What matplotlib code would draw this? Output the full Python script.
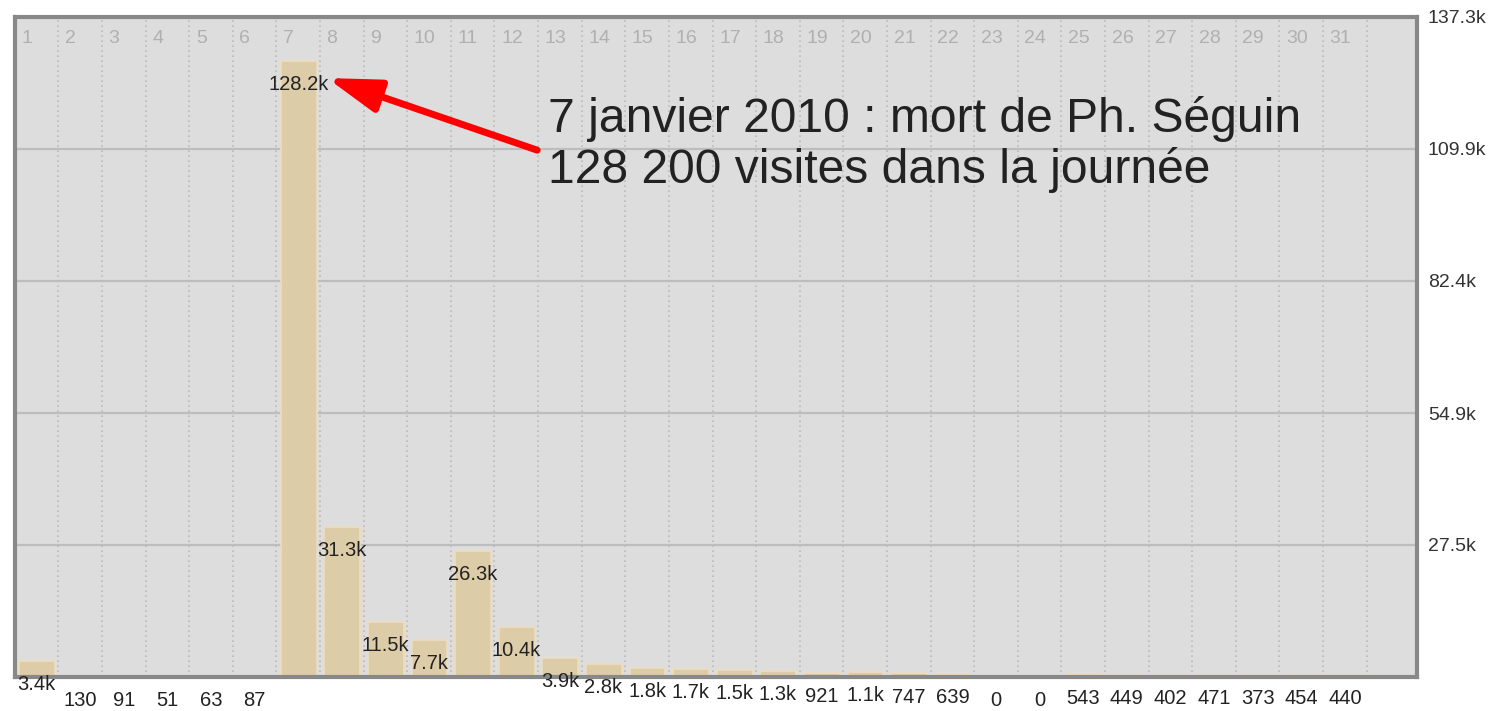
import numpy as np
import matplotlib
matplotlib.use('Agg')
import matplotlib.pyplot as plt
import matplotlib.transforms as mtransforms

plt.rcParams['font.family'] = ['Liberation Sans', 'DejaVu Sans']

# daily visits, january 2010
days = np.arange(1, 32)
visits = [3400, 130, 91, 51, 63, 87, 128200, 31300, 11500, 7700, 26300, 10400,
          3900, 2800, 1800, 1700, 1500, 1300, 921, 1100, 747, 639, 0, 0,
          543, 449, 402, 471, 373, 454, 440]
value_labels = ['3.4k', '130', '91', '51', '63', '87', '128.2k', '31.3k', '11.5k',
                '7.7k', '26.3k', '10.4k', '3.9k', '2.8k', '1.8k', '1.7k', '1.5k',
                '1.3k', '921', '1.1k', '747', '639', '0', '0', '543', '449', '402',
                '471', '373', '454', '440']
y_ticks = [27.5e3, 54.9e3, 82.4e3, 109.9e3, 137.3e3]
y_tick_labels = ['27.5k', '54.9k', '82.4k', '109.9k', '137.3k']
note_lines = ['7 janvier 2010 : mort de Ph. Séguin',
              '128 200 visites dans la journée']

fig = plt.figure(figsize=(14.9, 7.11), dpi=100)
ax = fig.add_axes([0.0099, 0.0478, 0.941, 0.9283])
ax.set_facecolor('#dddddd')

ax.bar(days - 1 + 0.1, visits, width=0.82, align='edge',
       color='#ddcca8', edgecolor='#efdcc0', linewidth=1.2, zorder=3)

ax.set_xlim(0, 32.15)
ax.set_ylim(0, 137.3e3)

# grid
ax.set_yticks(y_ticks)
ax.set_yticklabels(y_tick_labels)
ax.yaxis.tick_right()
ax.tick_params(axis='y', length=0, pad=8, labelsize=14, labelcolor='#333333')
ax.grid(axis='y', color='#bdbdbd', linewidth=1.6, zorder=1)
ax.set_xticks([])
ax.vlines(days, 0, 137.3e3, colors='#bbbbbb', linestyles=(0, (1, 2)),
          linewidth=1.2, zorder=1)

for s in ax.spines.values():
    s.set_color('#888888')
    s.set_linewidth(3)
    s.set_zorder(5)

# day numbers along the top
trans = mtransforms.blended_transform_factory(ax.transData, ax.transAxes)
for d in days:
    ax.text(d - 1 + 0.15, 0.968, str(d), transform=trans, ha='left', va='center',
            fontsize=14, color='#b0b0b0', zorder=4)

# value labels under bar tops
for d, v, lbl in zip(days, visits, value_labels):
    ax.annotate(lbl, xy=(d - 0.5, v), xytext=(0, -17), textcoords='offset points',
                ha='center', va='center', fontsize=14.5, color='#222222',
                annotation_clip=False, zorder=6)

# annotation
ax.annotate('', xy=(7.16, 124.6e3), xytext=(11.98, 109.6e3),
            arrowprops=dict(arrowstyle='-|>,head_length=32,head_width=10',
                            mutation_scale=1, lw=5, color='red',
                            shrinkA=0, shrinkB=0), zorder=7)
ax.text(12.23, 113.4e3, note_lines[0], fontsize=34.6, color='#222222', va='baseline', zorder=7)
ax.text(12.23, 102.8e3, note_lines[1], fontsize=34.6, color='#222222', va='baseline', zorder=7)

fig.savefig('out.png', dpi=100)
